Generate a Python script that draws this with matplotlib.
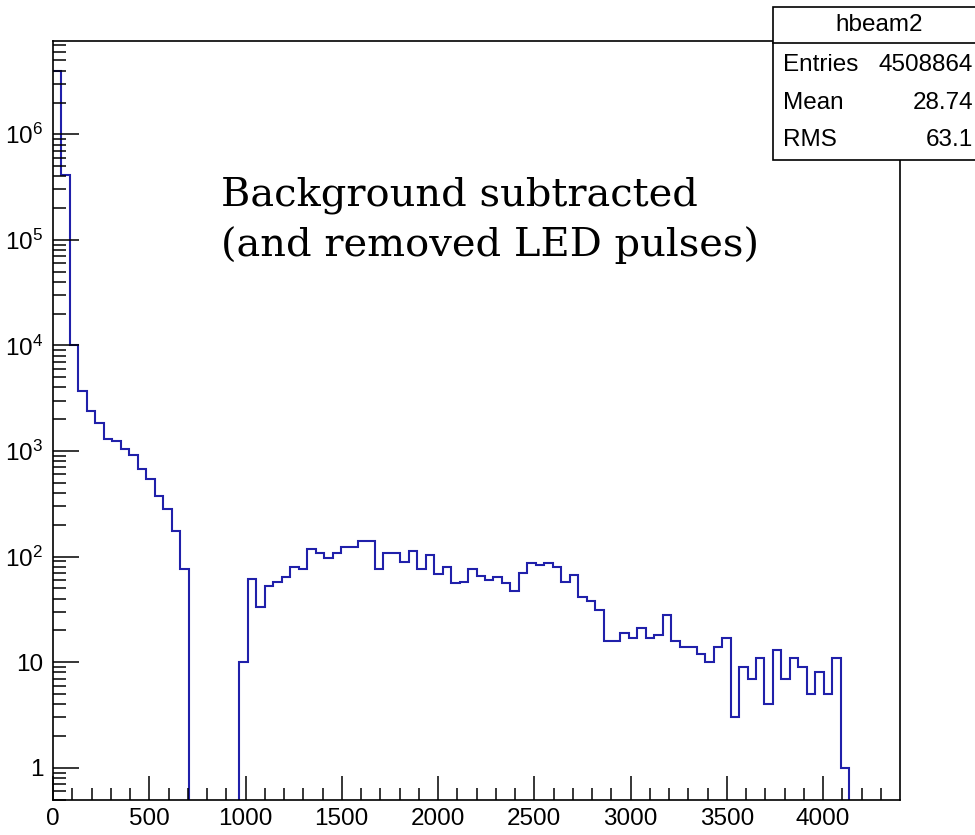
import numpy as np
import matplotlib
matplotlib.use("Agg")
import matplotlib.pyplot as plt
from matplotlib import font_manager
from matplotlib.ticker import FixedLocator, LogLocator, NullFormatter, FixedFormatter
from matplotlib.patches import Rectangle
from matplotlib.lines import Line2D

# ---- histogram data: 100 bins of width 44 over [0, 4400] ----
bin_lo = 0.0
bin_hi = 4400.0
n_bins = 100
counts = [
    3.95e6, 4.1e5, 1.02e4, 3720, 2390, 1825, 1290, 1240, 1035, 915,
    670, 538, 377, 280, 176, 76, 0, 0, 0, 0,
    0, 0, 10, 61, 33, 53, 57, 64, 79, 76,
    117, 109, 98, 109, 122, 122, 139, 139, 76, 107,
    107, 89, 113, 76, 103, 69, 79, 56, 58, 76,
    66, 60, 64, 56, 47, 70, 86, 83, 86, 79,
    57, 67, 41, 38, 31, 16, 16, 19, 17, 21,
    17, 18, 28, 16, 14, 14, 12, 10, 14, 17,
    3, 9, 7, 11, 4, 13, 7, 11, 9, 5,
    8, 5, 11, 1, 0, 0, 0, 0, 0, 0,
]

hist_name = "hbeam2"
stat_names = ["Entries", "Mean", "RMS"]
stat_values = ["4508864", "28.74", "63.1"]

note_lines = ["Background subtracted", "(and removed LED pulses)"]

x_major = [0, 500, 1000, 1500, 2000, 2500, 3000, 3500, 4000]
x_labels = ["0", "500", "1000", "1500", "2000", "2500", "3000", "3500", "4000"]
y_major = [1, 10, 1e2, 1e3, 1e4, 1e5, 1e6]
y_labels = ["1", "10", r"$10^{2}$", r"$10^{3}$", r"$10^{4}$", r"$10^{5}$", r"$10^{6}$"]

# ---- fonts ----
available = {f.name for f in font_manager.fontManager.ttflist}
sans = "Liberation Sans Narrow" if "Liberation Sans Narrow" in available else "Liberation Sans"
plt.rcParams["font.family"] = [sans, "DejaVu Sans"]
plt.rcParams["mathtext.fontset"] = "custom"
plt.rcParams["mathtext.rm"] = sans
plt.rcParams["mathtext.default"] = "regular"

W, H = 975, 835
fig = plt.figure(figsize=(W / 100, H / 100), dpi=100)
fig.patch.set_facecolor("white")

ax_l, ax_r, ax_t, ax_b = 53, 900, 41, 799.5
ax = fig.add_axes([ax_l / W, 1 - ax_b / H, (ax_r - ax_l) / W, (ax_b - ax_t) / H])

edges = np.linspace(bin_lo, bin_hi, n_bins + 1)
vals = np.asarray(counts, dtype=float)
ymin, ymax = 0.5, 7.65e6
draw_vals = np.where(vals > 0, vals, ymin * 1e-3)
ax.stairs(draw_vals, edges, color="#2020aa", linewidth=1.5, baseline=None)

ax.set_yscale("log")
ax.set_xlim(bin_lo, bin_hi)
ax.set_ylim(ymin, ymax)

ax.xaxis.set_major_locator(FixedLocator(x_major))
ax.xaxis.set_major_formatter(FixedFormatter(x_labels))
ax.xaxis.set_minor_locator(FixedLocator(np.arange(100, 4400, 100)))
ax.yaxis.set_major_locator(FixedLocator(y_major))
ax.yaxis.set_major_formatter(FixedFormatter(y_labels))
ax.yaxis.set_minor_locator(LogLocator(base=10, subs=np.arange(2, 10), numticks=50))
ax.yaxis.set_minor_formatter(NullFormatter())

ax.tick_params(axis="x", which="major", direction="in", length=17, width=1.1,
               labelsize=17.5, pad=6, top=False)
ax.tick_params(axis="x", which="minor", direction="in", length=9, width=1.1, top=False)
ax.tick_params(axis="y", which="major", direction="in", length=19, width=1.1,
               labelsize=17.5, pad=7, right=False)
ax.tick_params(axis="y", which="minor", direction="in", length=9, width=1.1, right=False)
for s in ax.spines.values():
    s.set_linewidth(1.2)


def fx(px):
    return px / W


def fy(py):
    return 1 - py / H


# annotation in serif, one text per line
for line, base in zip(note_lines, [206, 256]):
    fig.text(fx(221), fy(base), line, family="DejaVu Serif", fontsize=28.8,
             ha="left", va="baseline")

# ---- statistics box ----
bx0, bx1, by0, by1, by_sep = 773, 985, 7, 160, 43
fig.patches.append(Rectangle((fx(bx0), fy(by1)), fx(bx1) - fx(bx0), fy(by0) - fy(by1),
                             transform=fig.transFigure, facecolor="white",
                             edgecolor="black", linewidth=1.2, zorder=5))
fig.lines.append(Line2D([fx(bx0), fx(bx1)], [fy(by_sep), fy(by_sep)],
                        transform=fig.transFigure, color="black", linewidth=1.2, zorder=6))
fig.text(fx((bx0 + bx1) / 2), fy(25), hist_name, ha="center", va="center",
         fontsize=17.5, zorder=7)
row_y = [65, 103, 140]
for name, val, ry in zip(stat_names, stat_values, row_y):
    fig.text(fx(783), fy(ry), name, ha="left", va="center", fontsize=17.5, zorder=7)
    fig.text(fx(973), fy(ry), val, ha="right", va="center", fontsize=17.5, zorder=7)

fig.savefig("out.png", dpi=100)
